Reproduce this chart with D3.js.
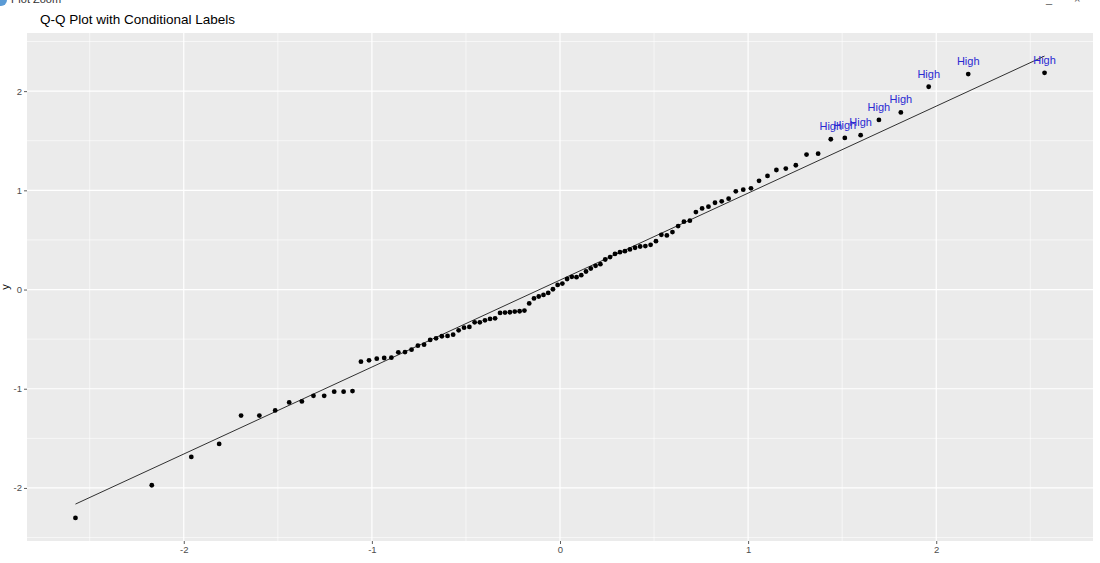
<!DOCTYPE html>
<html>
<head>
<meta charset="utf-8">
<script src="https://cdn.jsdelivr.net/npm/d3@7"></script>
<style>
  body { margin: 0; background: #fff; }
  svg text { font-family: "Liberation Sans", Arial, sans-serif; }
</style>
</head>
<body>
<div id="chart"></div>
<script>
// sample values (sorted)
var sampleY = [
  -2.302, -1.973, -1.687, -1.556, -1.270, -1.270, -1.219, -1.138, -1.128, -1.071,
  -1.071, -1.030, -1.030, -1.023, -0.727, -0.714, -0.697, -0.690, -0.687, -0.633,
  -0.630, -0.606, -0.566, -0.556, -0.508, -0.492, -0.471, -0.468, -0.455, -0.411,
  -0.384, -0.377, -0.330, -0.330, -0.310, -0.296, -0.290, -0.236, -0.232, -0.229,
  -0.222, -0.219, -0.212, -0.140, -0.090, -0.070, -0.054, -0.034, 0.003, 0.047,
  0.060, 0.106, 0.128, 0.125, 0.145, 0.182, 0.212, 0.239, 0.256, 0.303,
  0.327, 0.360, 0.377, 0.387, 0.404, 0.421, 0.434, 0.438, 0.451, 0.488,
  0.552, 0.545, 0.579, 0.640, 0.684, 0.694, 0.781, 0.818, 0.835, 0.875,
  0.889, 0.916, 0.990, 1.007, 1.020, 1.096, 1.145, 1.205, 1.219, 1.253,
  1.360, 1.370, 1.515, 1.528, 1.556, 1.710, 1.785, 2.044, 2.172, 2.185
];
var labelThreshold = 1.5;
var labelText = "High";
var xTicks = [-2, -1, 0, 1, 2];
var yTicks = [-2, -1, 0, 1, 2];
var chartTitle = "Q-Q Plot with Conditional Labels";

// inverse normal cdf (Acklam), used for the theoretical quantiles like stat_qq
function qnorm(p) {
    var a = [-3.969683028665376e+01, 2.209460984245205e+02, -2.759285104469687e+02, 1.383577518672690e+02, -3.066479806614716e+01, 2.506628277459239e+00];
    var b = [-5.447609879822406e+01, 1.615858368580409e+02, -1.556989798598866e+02, 6.680131188771972e+01, -1.328068155288572e+01];
    var c = [-7.784894002430293e-03, -3.223964580411365e-01, -2.400758277161838e+00, -2.549732539343734e+00, 4.374664141464968e+00, 2.938163982698783e+00];
    var d = [7.784695709041462e-03, 3.224671290700398e-01, 2.445134137142996e+00, 3.754408661907416e+00];
    var q, r;
    if (p < 0.02425) {
        q = Math.sqrt(-2 * Math.log(p));
        return (((((c[0]*q+c[1])*q+c[2])*q+c[3])*q+c[4])*q+c[5]) / ((((d[0]*q+d[1])*q+d[2])*q+d[3])*q+1);
    } else if (p > 1 - 0.02425) {
        q = Math.sqrt(-2 * Math.log(1 - p));
        return -(((((c[0]*q+c[1])*q+c[2])*q+c[3])*q+c[4])*q+c[5]) / ((((d[0]*q+d[1])*q+d[2])*q+d[3])*q+1);
    }
    q = p - 0.5; r = q * q;
    return (((((a[0]*r+a[1])*r+a[2])*r+a[3])*r+a[4])*r+a[5])*q / (((((b[0]*r+b[1])*r+b[2])*r+b[3])*r+b[4])*r+1);
}

var n = sampleY.length;
var points = sampleY.map(function (v, i) {
    return {x: qnorm((i + 0.5) / n), y: v};
});

// qq line through the quartiles
var sorted = sampleY.slice().sort(d3.ascending);
var y25 = d3.quantileSorted(sorted, 0.25), y75 = d3.quantileSorted(sorted, 0.75);
var x25 = qnorm(0.25), x75 = qnorm(0.75);
var slope = (y75 - y25) / (x75 - x25);
var intercept = y25 - slope * x25;
var xExt = d3.extent(points, function (d) { return d.x; });
var linePts = xExt.map(function (x) { return {x: x, y: intercept + slope * x}; });

var width = 1100, height = 563;
var panel = {left: 27, right: 1093, top: 33, bottom: 541};

var svg = d3.select("#chart").append("svg")
    .attr("width", width)
    .attr("height", height);

// window chrome remnants
svg.append("circle").attr("cx", 1).attr("cy", 0).attr("r", 6).attr("fill", "#5b9bd5");
svg.append("text").attr("x", 11).attr("y", 3).attr("font-size", 11).attr("fill", "#333").text("Plot Zoom");
svg.append("text").attr("x", 1046).attr("y", 3).attr("font-size", 11).attr("fill", "#555").text("_");
svg.append("text").attr("x", 1074).attr("y", 3).attr("font-size", 11).attr("fill", "#555").text("\u00d7");

var allY = sampleY.concat(linePts.map(function (d) { return d.y; }));
var yMin = d3.min(allY), yMax = d3.max(allY);
var yPad = (yMax - yMin) * 0.05;
var xPad = (xExt[1] - xExt[0]) * 0.05;

var x = d3.scaleLinear()
    .domain([xExt[0] - xPad, xExt[1] + xPad])
    .range([panel.left, panel.right]);
var y = d3.scaleLinear()
    .domain([yMin - yPad, yMax + yPad])
    .range([panel.bottom, panel.top]);

svg.append("rect")
    .attr("x", panel.left).attr("y", panel.top)
    .attr("width", panel.right - panel.left)
    .attr("height", panel.bottom - panel.top)
    .attr("fill", "#ebebeb");

var grid = svg.append("g");
var xMinor = xTicks.slice(0, -1).map(function (t) { return t + 0.5; }).concat([xTicks[0] - 0.5, xTicks[xTicks.length - 1] + 0.5]);
var yMinor = yTicks.slice(0, -1).map(function (t) { return t + 0.5; }).concat([yTicks[0] - 0.5, yTicks[yTicks.length - 1] + 0.5]);

grid.selectAll(".xminor").data(xMinor.filter(function (t) { return x(t) > panel.left && x(t) < panel.right; }))
    .enter().append("line")
    .attr("x1", function (d) { return x(d); }).attr("x2", function (d) { return x(d); })
    .attr("y1", panel.top).attr("y2", panel.bottom)
    .attr("stroke", "#fff").attr("stroke-width", 0.6);
grid.selectAll(".yminor").data(yMinor.filter(function (t) { return y(t) > panel.top && y(t) < panel.bottom; }))
    .enter().append("line")
    .attr("y1", function (d) { return y(d); }).attr("y2", function (d) { return y(d); })
    .attr("x1", panel.left).attr("x2", panel.right)
    .attr("stroke", "#fff").attr("stroke-width", 0.6);
grid.selectAll(".xmajor").data(xTicks).enter().append("line")
    .attr("x1", function (d) { return x(d); }).attr("x2", function (d) { return x(d); })
    .attr("y1", panel.top).attr("y2", panel.bottom)
    .attr("stroke", "#fff").attr("stroke-width", 1.2);
grid.selectAll(".ymajor").data(yTicks).enter().append("line")
    .attr("y1", function (d) { return y(d); }).attr("y2", function (d) { return y(d); })
    .attr("x1", panel.left).attr("x2", panel.right)
    .attr("stroke", "#fff").attr("stroke-width", 1.2);

// axes
var xAxis = d3.axisBottom(x).tickValues(xTicks).tickSize(3).tickPadding(2).tickFormat(d3.format("d"));
var yAxis = d3.axisLeft(y).tickValues(yTicks).tickSize(3).tickPadding(2).tickFormat(d3.format("d"));

var gx = svg.append("g")
    .attr("transform", "translate(0," + panel.bottom + ")")
    .call(xAxis);
var gy = svg.append("g")
    .attr("transform", "translate(" + panel.left + ",0)")
    .call(yAxis);
[gx, gy].forEach(function (g) {
    g.select(".domain").remove();
    g.selectAll(".tick line").attr("stroke", "#333").attr("stroke-width", 0.8);
    g.selectAll(".tick text").attr("fill", "#4d4d4d").attr("font-size", 9.5)
        .style("font-family", "'Liberation Sans', Arial, sans-serif");
});
// minus sign as hyphen like R
svg.selectAll(".tick text").text(function (d) { return String(d); });

svg.append("text")
    .attr("transform", "translate(9," + ((panel.top + panel.bottom) / 2) + ") rotate(-90)")
    .attr("text-anchor", "middle")
    .attr("font-size", 11)
    .attr("fill", "#000")
    .text("y");

svg.append("text")
    .attr("x", 40).attr("y", 24)
    .attr("font-size", 13.5)
    .attr("fill", "#000")
    .text(chartTitle);

// qq line
svg.append("line")
    .attr("x1", x(linePts[0].x)).attr("y1", y(linePts[0].y))
    .attr("x2", x(linePts[1].x)).attr("y2", y(linePts[1].y))
    .attr("stroke", "#000").attr("stroke-width", 0.8);

svg.append("g").selectAll("circle").data(points).enter().append("circle")
    .attr("cx", function (d) { return x(d.x); })
    .attr("cy", function (d) { return y(d.y); })
    .attr("r", 2.4)
    .attr("fill", "#000");

svg.append("g").selectAll("text")
    .data(points.filter(function (d) { return d.y > labelThreshold; }))
    .enter().append("text")
    .attr("x", function (d) { return x(d.x); })
    .attr("y", function (d) { return y(d.y) - 9; })
    .attr("text-anchor", "middle")
    .attr("font-size", 11)
    .attr("fill", "#2a2ad2")
    .text(labelText);
</script>
</body>
</html>
